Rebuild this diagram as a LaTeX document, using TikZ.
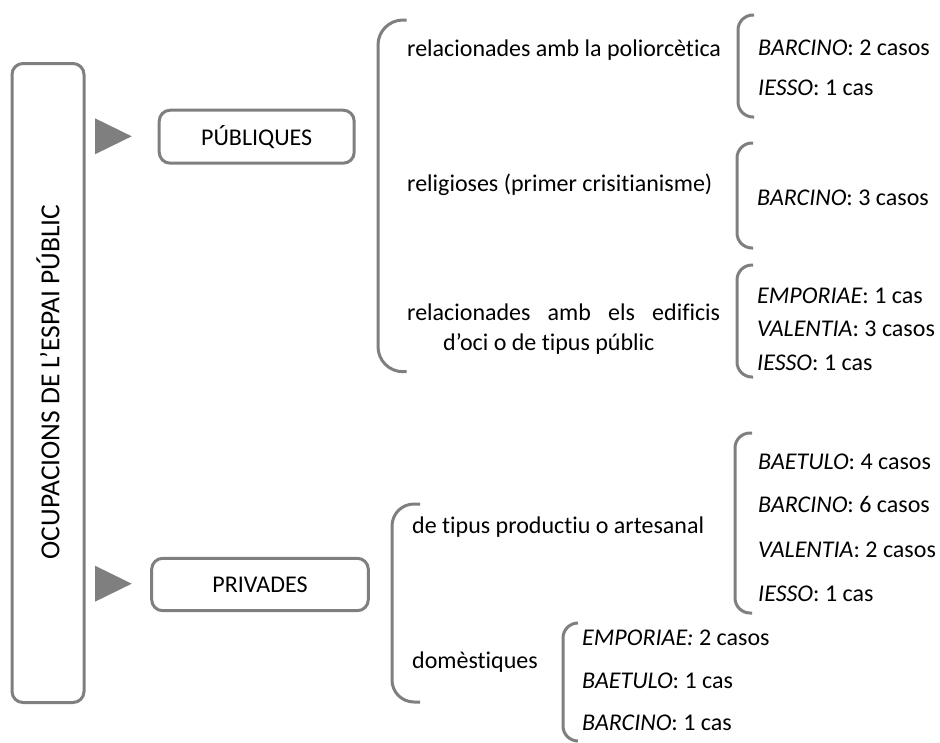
\documentclass[tikz,border=0pt]{standalone}
\usepackage{fontspec}
\setmainfont{Carlito}[Ligatures={CommonOff,ContextualOff}]
\definecolor{grayc}{HTML}{7F7F7F}
\tikzset{
  rbox/.style={draw=grayc, line width=3pt, rounded corners=11pt, inner sep=0pt, font=\fontsize{24}{30}\selectfont},
  txt/.style={anchor=base west, inner sep=0pt, font=\fontsize{24}{30}\selectfont},
  brk/.style={draw=grayc, line width=3pt, rounded corners=#1},
  brk/.default=15pt,
  tri/.style={fill=grayc, draw=none}
}
\begin{document}
\begin{tikzpicture}[x=1pt, y=-1pt]
\useasboundingbox (0,0) rectangle (940,742);
% main box
\node[rbox, minimum width=72pt, minimum height=639pt] (main) at (48,383) {};
\node[rotate=90, inner sep=0pt, font=\fontsize{27.5}{30}\selectfont] (mainlabel) at (48,382) {OCUPACIONS DE L’ESPAI PÚBLIC};
% category boxes
\node[rbox, minimum width=195pt, minimum height=53pt] (pub) at (256.7,136.7) {PÚBLIQUES};
\node[rbox, minimum width=216.6pt, minimum height=52.4pt] (priv) at (260,584.5) {PRIVADES};
% triangles
\coordinate (t1) at (95,136.3);
\coordinate (t2) at (95,583.7);
\fill[tri] (t1) ++(0,-18) -- ++(0,36) -- ++(36.7,-18) -- cycle;
\fill[tri] (t2) ++(0,-18) -- ++(0,36) -- ++(36.7,-18) -- cycle;
% big brackets
\draw[brk=25pt] (406.7,20) -- (378,20) -- (378,371.7) -- (406.7,371.7);
\draw[brk=22pt] (420,504) -- (392,504) -- (392,702) -- (420,702);
% public texts
\node[txt] (p1) at (407,56) {relacionades amb la poliorcètica};
\node[txt] (p2) at (407,191) {religioses (primer crisitianisme)};
\node[txt] (p3a) at (407,320) {\hbox to 313pt{relacionades\hfill amb\hfill els\hfill edificis}};
\node[txt] (p3b) at (443,350) {d’oci o de tipus públic};
% private texts
\node[txt] (q1) at (412,533) {de tipus productiu o artesanal};
\node[txt] (q2) at (412,668) {domèstiques};
% small brackets
\draw[brk] (754,15) -- (738,15) -- (738,117) -- (754,117);
\draw[brk] (753,143) -- (737,143) -- (737,248) -- (753,248);
\draw[brk] (753,265) -- (737,265) -- (737,377) -- (753,377);
\draw[brk] (752,433) -- (735,433) -- (735,613) -- (752,613);
\draw[brk] (578,623) -- (563,623) -- (563,741) -- (578,741);
% entries
\node[txt] (a1) at (758,55) {\textit{BARCINO}: 2 casos};
\node[txt] (a2) at (758,95) {\textit{IESSO}: 1 cas};
\node[txt] (b1) at (757,205) {\textit{BARCINO}: 3 casos};
\node[txt] (c1) at (757,303) {\textit{EMPORIAE}: 1 cas};
\node[txt] (c2) at (757,336) {\textit{VALENTIA}: 3 casos};
\node[txt] (c3) at (757,370) {\textit{IESSO}: 1 cas};
\node[txt] (d1) at (758,469) {\textit{BAETULO}: 4 casos};
\node[txt] (d2) at (758,512) {\textit{BARCINO}: 6 casos};
\node[txt] (d3) at (758,557) {\textit{VALENTIA}: 2 casos};
\node[txt] (d4) at (758,601) {\textit{IESSO}: 1 cas};
\node[txt] (e1) at (582,645) {\textit{EMPORIAE:} 2 casos};
\node[txt] (e2) at (582,688) {\textit{BAETULO}: 1 cas};
\node[txt] (e3) at (582,730) {\textit{BARCINO}: 1 cas};
\end{tikzpicture}
\end{document}
